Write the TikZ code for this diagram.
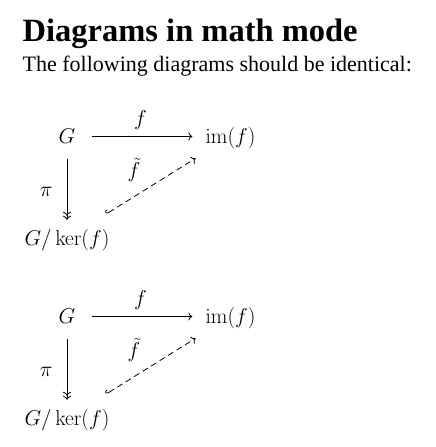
\RequirePackage{fix-cm}
\documentclass[tikz,border=0pt]{standalone}
\usepackage[no-math]{fontspec}
\setmainfont{Liberation Serif}
\usepackage{amsmath,amssymb}
\usepackage{tikz}
\usetikzlibrary{arrows.meta,calc,positioning}

\tikzset{
    obj/.style={font=\fontsize{21.5}{26}\selectfont, anchor=base, inner sep=0pt, text height=17pt, text depth=4pt},
    lbl/.style={font=\fontsize{21.5}{26}\selectfont, inner sep=1pt},
    map/.style={-{To[length=4pt,width=8pt]}, line width=0.8pt},
    surj/.style={-{To[length=4pt,width=8pt]To[length=4pt,width=8pt]}, line width=0.8pt},
    incl/.style={{Hooks[right,length=3pt,width=7pt]}-{To[length=4pt,width=8pt]}, dash pattern=on 6pt off 4pt, line width=0.8pt}
}

\begin{document}
\begin{tikzpicture}[x=1pt, y=-1pt]
    \useasboundingbox (0,0) rectangle (436,447);

    % Heading
    \node[anchor=base west, inner sep=0pt, font=\fontsize{32.5}{40}\selectfont\bfseries] (title) at (22.5,41.7) {Diagrams in math mode};
    \node[anchor=base west, inner sep=0pt, font=\fontsize{22}{26}\selectfont] (intro) at (22.5,71.5) {The following diagrams should be identical:};

    % First diagram
    \begin{scope}
        \node[obj] (g1) at (67,143) {$G$};
        \node[obj] (im1) at (230.5,143) {$\operatorname{im}(f)$};
        \node[obj] (q1) at (67,245) {$G/\ker(f)$};
        \draw[map, shorten <=16.5pt, shorten >=13pt] (g1) -- node[lbl, above=5pt] {$f$} (im1);
        \draw[surj, shorten <=12pt, shorten >=8pt] (g1) -- node[lbl, left=13pt, pos=0.55] {$\pi$} (q1);
        \draw[incl, shorten <=26pt, shorten >=21pt] (q1) -- node[lbl, above left=4pt and 7pt] {$\tilde{f}$} (im1);
    \end{scope}

    % Second diagram
    \begin{scope}[shift={(0,180)}]
        \node[obj] (g2) at (67,143) {$G$};
        \node[obj] (im2) at (230.5,143) {$\operatorname{im}(f)$};
        \node[obj] (q2) at (67,245) {$G/\ker(f)$};
        \draw[map, shorten <=16.5pt, shorten >=13pt] (g2) -- node[lbl, above=5pt] {$f$} (im2);
        \draw[surj, shorten <=12pt, shorten >=8pt] (g2) -- node[lbl, left=13pt, pos=0.55] {$\pi$} (q2);
        \draw[incl, shorten <=26pt, shorten >=21pt] (q2) -- node[lbl, above left=4pt and 7pt] {$\tilde{f}$} (im2);
    \end{scope}
\end{tikzpicture}
\end{document}
